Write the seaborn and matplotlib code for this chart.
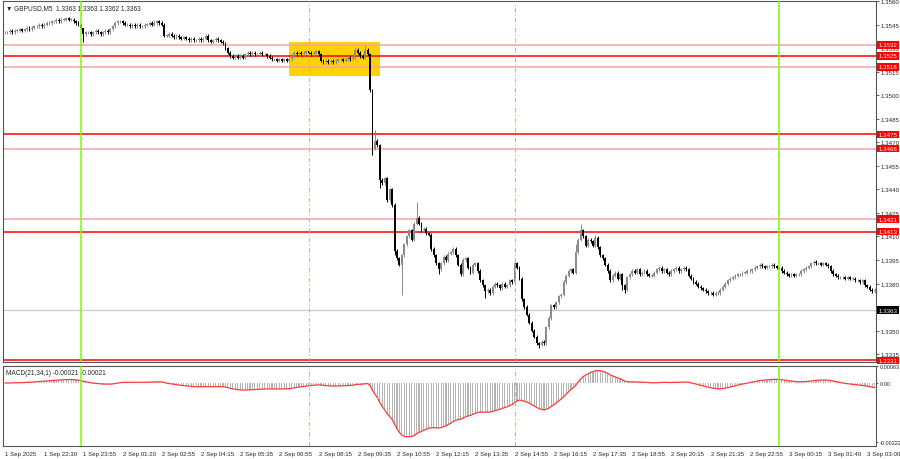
import numpy as np
import pandas as pd
import matplotlib
matplotlib.use("Agg")
import matplotlib.pyplot as plt
import matplotlib.transforms as mtransforms
import seaborn as sns

# GBPUSD M5 closes, in pips above 1.3000 (one per bar)
close_pips = [
    540, 540, 541, 540, 541, 541, 542, 541, 542, 543, 542, 543,
    544, 544, 545, 544, 545, 546, 546, 547,
    547, 548, 547, 548, 548, 549, 548, 548, 547, 546,
    545, 543, 539, 540,
    540, 539, 540, 541, 540, 539, 540, 541,
    540, 542, 544, 546, 547, 547,
    546, 545, 545, 544, 545, 544, 545, 544, 544, 545, 545, 546, 545,
    546, 547, 546, 545,
    538, 538, 539, 538, 537, 538, 537, 536, 537, 536, 535, 536, 535, 535, 536, 535,
    536, 538, 535, 534, 535, 536, 535, 534, 533,
    530, 527, 525, 524,
    525, 524, 525, 524,
    526, 527, 526, 527, 526, 526, 527, 526, 526, 525, 524,
    523, 523, 522, 523, 522, 523, 522, 523,
    525, 527, 526, 527, 526, 527, 528, 527, 526, 527, 528, 526,
    522, 521, 522, 521, 522, 521,
    522, 523, 523, 522, 523, 524, 523, 524,
    529, 527, 525, 524, 529, 526,
    503, 466, 471, 468, 446,
    444, 447, 433, 440, 430, 401,
    396, 392, 398, 405, 410, 414, 408, 418, 422, 418, 414, 415, 412, 411,
    402, 398, 393, 389, 393, 397, 395, 399, 400, 402, 398, 392, 386, 395, 396, 390, 387, 392, 393, 388,
    382, 379, 375, 376, 374, 378, 380, 379, 377, 380, 378, 379, 382, 381,
    393, 390, 383, 370, 365, 360, 355, 350, 346, 342, 341, 343, 342,
    352, 358, 366, 365, 368, 372, 373, 381, 385, 388, 389, 387,
    400, 408, 414, 410, 404, 408, 407, 404, 409, 403, 398, 396, 392, 388, 382, 385, 387, 383, 386, 379, 376,
    384, 386, 388, 387, 389, 386, 387, 388, 386, 385, 385, 387, 389, 390, 388, 389, 387, 386,
    388, 389, 390, 388, 389, 390, 389,
    385, 383, 381, 380, 378, 377, 376,
    375, 374, 374, 373, 374, 374,
    376, 378, 380, 382, 383, 384, 385,
    386, 386, 387, 387, 388, 388, 389, 390,
    391, 392, 391, 390, 391, 391, 392, 391, 390, 390,
    388, 387, 386, 385, 386, 385, 386, 386,
    388, 389, 390, 391, 393,
    394, 393, 393, 392, 393, 392, 391,
    388, 386, 385, 384,
    384, 384, 383, 384, 383, 383, 382, 382, 381, 382,
    379, 378, 376, 375, 376,
]
# wicks that stick out further than one pip
high_pips = {32: 541, 46: 548, 61: 548, 82: 539, 143: 531, 147: 532, 148: 530,
             151: 478, 168: 432, 208: 396, 233: 405, 235: 418, 241: 411}
low_pips = {32: 534, 150: 462, 153: 441, 159: 398, 162: 373, 177: 386,
            196: 371, 218: 339, 252: 376, 253: 374}

time_labels = ["1 Sep 2025", "1 Sep 22:30", "1 Sep 23:55", "2 Sep 01:20", "2 Sep 02:55",
               "2 Sep 04:15", "2 Sep 05:35", "2 Sep 06:55", "2 Sep 08:15", "2 Sep 09:35",
               "2 Sep 10:55", "2 Sep 12:15", "2 Sep 13:35", "2 Sep 14:55", "2 Sep 16:15",
               "2 Sep 17:35", "2 Sep 18:55", "2 Sep 20:15", "2 Sep 21:35", "2 Sep 22:55",
               "3 Sep 00:15", "3 Sep 01:40", "3 Sep 03:00"]
bars_per_label = 16

levels = [1.3532, 1.3525, 1.3518, 1.3475, 1.3466, 1.3421, 1.3413, 1.3331]
level_strong = [False, True, False, True, False, False, True, True]
last_price = 1.3363
price_ticks = [1.3560, 1.3545, 1.3530, 1.3515, 1.3500, 1.3485, 1.3470, 1.3455,
               1.3440, 1.3425, 1.3410, 1.3395, 1.3380, 1.3365, 1.3350, 1.3335]
macd_ticks = [0.00063, 0.0, -0.00222]
macd_tick_labels = ["0.00063", "0.00", "-0.00222"]

day_bars = [31, 316]        # solid green separators
session_bars = [124, 208]   # dashed green markers
zone_bars = (116, 153)
zone_prices = (1.35121, 1.35338)

# ---- build OHLC
close = 1.3 + np.array(close_pips) / 10000.0
opens = np.r_[close[0], close[:-1]]
n = len(close)
hi = np.maximum(opens, close) + 0.0001
lo = np.minimum(opens, close) - 0.0001
for k, v in high_pips.items():
    hi[k] = 1.3 + v / 10000.0
for k, v in low_pips.items():
    lo[k] = 1.3 + v / 10000.0
df = pd.DataFrame({"bar": np.arange(n), "open": opens, "high": hi, "low": lo, "close": close})

# MACD(21,34,1) from the closes
ema_fast = df["close"].ewm(span=21, adjust=False).mean()
ema_slow = df["close"].ewm(span=34, adjust=False).mean()
df["macd"] = ema_fast - ema_slow

sns.set_style("white")
plt.rcParams["font.family"] = ["Liberation Sans", "DejaVu Sans"]
fs = 4.4

fig = plt.figure(figsize=(9, 4.6), dpi=100)
ax = fig.add_axes([3 / 900, 1 - 363 / 460, 873 / 900, 361 / 460])
axm = fig.add_axes([3 / 900, 1 - 447 / 460, 873 / 900, 80 / 460])

xlim = (-0.8, 355.5)

# ---- price panel
ax.fill_between([zone_bars[0], zone_bars[1]], zone_prices[0], zone_prices[1],
                color="#ffd200", zorder=0.5, lw=0)
for lv, strong in zip(levels, level_strong):
    ax.axhline(lv, color="#ff0000" if strong else "#f6a3a3", lw=1.1, zorder=1)
ax.axhline(last_price, color="#c8c8c8", lw=0.8, zorder=1)

bull = df["close"] >= df["open"]
col = np.where(bull, "#8a8a8a", "#000000")
ax.vlines(df["bar"], df["low"], df["high"], colors=col, lw=0.7, zorder=2)
body = (df["close"] - df["open"]).abs().clip(lower=0.000025)
ax.bar(df["bar"], body, bottom=np.minimum(df["open"], df["close"]), width=0.78,
       color=col, lw=0, zorder=2)

ax.set_xlim(*xlim)
ax.set_ylim(1.3330, 1.3560)
ax.set_xticks([])
ax.yaxis.tick_right()
ax.set_yticks(price_ticks)
ax.set_yticklabels([f"{p:.4f}" for p in price_ticks], fontsize=fs)
ax.tick_params(axis="y", length=2, pad=1.5, width=0.5)

ax.text(0.004, 0.992, "\u25bc GBPUSD,M5  1.3363 1.3363 1.3362 1.3363",
        transform=ax.transAxes, va="top", ha="left", fontsize=fs + 0.3)

trans = mtransforms.blended_transform_factory(ax.transAxes, ax.transData)
for lv in levels:
    ax.text(1.003, lv, f"{lv:.4f}", transform=trans, va="center", ha="left", fontsize=fs,
            color="white", clip_on=False, zorder=5,
            bbox=dict(boxstyle="square,pad=0.2", fc="#ff0000", ec="none"))
ax.text(1.003, last_price, f"{last_price:.4f}", transform=trans, va="center", ha="left",
        fontsize=fs, color="white", clip_on=False, zorder=5,
        bbox=dict(boxstyle="square,pad=0.2", fc="#000000", ec="none"))

# ---- MACD panel
axm.bar(df["bar"], df["macd"], width=0.45, color="#b4b4b4", lw=0, zorder=1)
sns.lineplot(data=df, x="bar", y="macd", ax=axm, color="#ff3b3b", lw=0.9, zorder=2)
axm.set_xlim(*xlim)
axm.set_ylim(-0.00237, 0.00064)
axm.yaxis.tick_right()
axm.set_yticks(macd_ticks)
axm.set_yticklabels(macd_tick_labels, fontsize=fs - 0.4)
axm.set_xlabel("")
axm.set_ylabel("")
ticks = [i * bars_per_label for i in range(len(time_labels))]
axm.set_xticks(ticks)
axm.set_xticklabels(time_labels, fontsize=fs, ha="left")
axm.tick_params(axis="x", length=2, pad=1.5, width=0.5)
axm.tick_params(axis="y", length=1.5, pad=1, width=0.5)
axm.text(0.004, 0.96, "MACD(21,34,1) -0.00021 -0.00021", transform=axm.transAxes,
         va="top", ha="left", fontsize=fs + 0.3)

for a in (ax, axm):
    for b in day_bars:
        a.axvline(b, color="#7cfc00", lw=1.1, zorder=3)
    for b in session_bars:
        a.axvline(b, color="#9ae62e", lw=0.8, ls=(0, (4, 2, 1, 2)), zorder=3)
    for s in a.spines.values():
        s.set_color("#555555")
        s.set_linewidth(0.8)

fig.savefig("out.png", dpi=100)
